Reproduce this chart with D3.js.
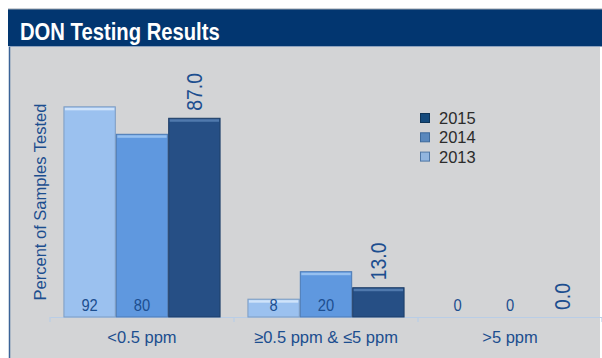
<!DOCTYPE html>
<html>
<head>
<meta charset="utf-8">
<script src="https://cdnjs.cloudflare.com/ajax/libs/d3/7.8.5/d3.min.js"></script>
<style>
  html, body { margin: 0; padding: 0; background: #ffffff; }
  svg { display: block; font-family: "Liberation Sans", Arial, sans-serif; }
</style>
</head>
<body>
<svg id="chart" width="602" height="358"></svg>
<script>
// DON test results: share of samples per concentration range, by year
const categories = ["<0.5 ppm", "\u22650.5 ppm & \u22645 ppm", ">5 ppm"];
const years = ["2013", "2014", "2015"];
const values2013 = [92, 8, 0];
const values2014 = [80, 20, 0];
const values2015 = [87.0, 13.0, 0.0];
const yDomain = [0, 100];
const legendOrder = ["2015", "2014", "2013"];

const seriesValues = { "2013": values2013, "2014": values2014, "2015": values2015 };
const fills = { "2013": "#9bc1ef", "2014": "#5f98df", "2015": "#264f85" };
const highlights = { "2013": "#cfe3fa", "2014": "#96c0f0", "2015": "#5079ad" };
const strokes = { "2013": "#7d9cc2", "2014": "#4c7bb5", "2015": "#1c3c66" };
const legendFills = { "2015": "#154a7c", "2014": "#5a88bd", "2013": "#92b5de" };
const legendStrokes = { "2015": "#0e3458", "2014": "#3d6a9c", "2013": "#4f77a6" };
const textBlue = "#1c4e8f";

const svg = d3.select("#chart");

// frame: grey panel with navy title band
svg.append("rect").attr("x", 9).attr("y", 46).attr("width", 591).attr("height", 312).attr("fill", "#d3d4d6");
svg.append("line").attr("x1", 9.5).attr("x2", 9.5).attr("y1", 46).attr("y2", 358)
  .attr("stroke", "#3b6397").attr("stroke-width", 1.5);
svg.append("rect").attr("x", 8).attr("y", 9).attr("width", 594).attr("height", 37).attr("fill", "#023670");
svg.append("line").attr("x1", 8).attr("x2", 602).attr("y1", 9).attr("y2", 9).attr("stroke", "#9aa3ad").attr("stroke-width", 1);
svg.append("line").attr("x1", 9).attr("x2", 602).attr("y1", 46.5).attr("y2", 46.5).attr("stroke", "#8ea3bf").attr("stroke-width", 1);
svg.append("text").attr("x", 20).attr("y", 40)
  .attr("fill", "#ffffff").attr("font-weight", "bold").attr("font-size", 23)
  .attr("transform", "translate(20,0) scale(0.88,1) translate(-20,0)")
  .text("DON Testing Results");

// scales
const x0 = d3.scaleBand().domain(categories).range([50, 602]).padding(0);
const bw = x0.bandwidth();
const x1 = d3.scaleBand().domain(years).range([bw * 0.073, bw * 0.927]).padding(0);
const y = d3.scaleLinear().domain(yDomain).range([317, 88]);

// axis line with category boundary ticks
const axis = d3.axisBottom(x0).tickSize(0).tickFormat(() => "");
const axisG = svg.append("g").attr("transform", `translate(0,${y(0)})`).call(axis);
axisG.select(".domain").attr("stroke", "#b9cde6").attr("stroke-width", 1.2);
const boundaries = categories.map(c => x0(c)).concat([x0(categories[categories.length - 1]) + bw]);
axisG.selectAll(".bound").data(boundaries).join("line").attr("class", "bound")
  .attr("x1", d => d).attr("x2", d => d).attr("y1", 0).attr("y2", 5)
  .attr("stroke", "#b9cde6").attr("stroke-width", 1.2);

// category labels
svg.append("g").selectAll("text").data(categories).join("text")
  .attr("x", d => x0(d) + bw / 2).attr("y", 343)
  .attr("text-anchor", "middle").attr("fill", textBlue).attr("font-size", 16.5)
  .text(d => d);

// y axis title
svg.append("text")
  .attr("transform", "translate(46,202) rotate(-90)")
  .attr("text-anchor", "middle").attr("fill", textBlue).attr("font-size", 16.5)
  .text("Percent of Samples Tested");

// bars
const rows = [];
categories.forEach((c, i) => years.forEach(yr => rows.push({ cat: c, year: yr, value: seriesValues[yr][i] })));

const barG = svg.append("g");
const bars = barG.selectAll("g.bar").data(rows.filter(d => d.value > 0)).join("g").attr("class", "bar");
bars.append("rect")
  .attr("x", d => x0(d.cat) + x1(d.year) + 0.5)
  .attr("y", d => y(d.value) + 0.5)
  .attr("width", x1.bandwidth() - 1)
  .attr("height", d => y(0) - y(d.value) - 0.5)
  .attr("fill", d => fills[d.year])
  .attr("stroke", d => strokes[d.year]).attr("stroke-width", 1);
bars.append("rect")
  .attr("x", d => x0(d.cat) + x1(d.year) + 1.5)
  .attr("y", d => y(d.value) + 1.5)
  .attr("width", x1.bandwidth() - 3)
  .attr("height", 2.5)
  .attr("fill", d => highlights[d.year]);

// value labels: 2013 & 2014 inside the bar foot, 2015 rotated above the bar
svg.append("g").selectAll("text").data(rows.filter(d => d.year !== "2015")).join("text")
  .attr("x", d => x0(d.cat) + x1(d.year) + x1.bandwidth() / 2)
  .attr("y", 311.5)
  .attr("text-anchor", "middle").attr("fill", textBlue).attr("font-size", 16)
  .attr("transform", d => {
    const cx = x0(d.cat) + x1(d.year) + x1.bandwidth() / 2;
    return `translate(${cx},0) scale(0.92,1) translate(${-cx},0)`;
  })
  .text(d => d3.format("d")(d.value));

svg.append("g").selectAll("text").data(rows.filter(d => d.year === "2015")).join("text")
  .attr("transform", d => `translate(${x0(d.cat) + x1(d.year) + x1.bandwidth() / 2},${y(d.value) - 7}) rotate(-90) scale(0.88,1)`)
  .attr("dy", "0.36em")
  .attr("text-anchor", "start").attr("fill", textBlue).attr("font-size", 22)
  .text(d => d3.format(".1f")(d.value));

// legend
const legend = svg.append("g").attr("transform", "translate(420,113)");
const li = legend.selectAll("g").data(legendOrder).join("g")
  .attr("transform", (d, i) => `translate(0,${i * 19.3})`);
li.append("rect").attr("x", 0.5).attr("y", 0.5).attr("width", 9).attr("height", 9)
  .attr("fill", d => legendFills[d]).attr("stroke", d => legendStrokes[d]).attr("stroke-width", 1);
li.append("text").attr("x", 19).attr("y", 11)
  .attr("fill", "#2b2b2b").attr("font-size", 16.5)
  .text(d => d);
</script>
</body>
</html>
